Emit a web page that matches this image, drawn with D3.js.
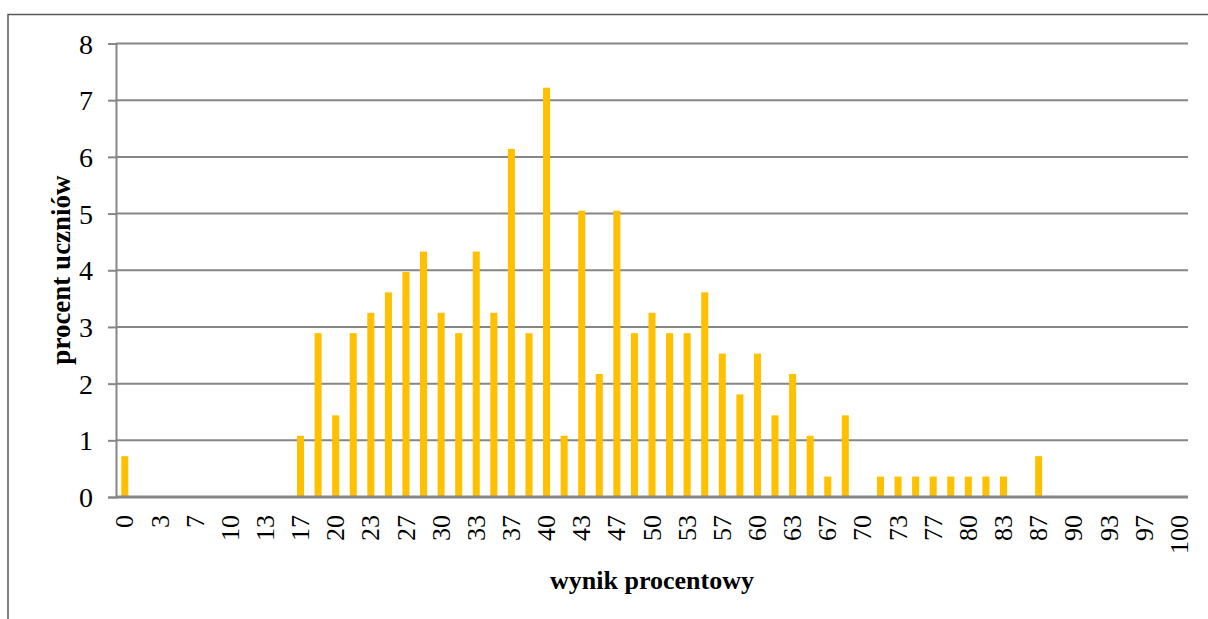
<!DOCTYPE html>
<html>
<head>
<meta charset="utf-8">
<script src="https://cdn.jsdelivr.net/npm/d3@7"></script>
<style>
  html, body { margin: 0; background: #fff; overflow: hidden; }
  svg { display: block; }
  svg text { font-family: "Liberation Serif", "Times New Roman", serif; }
</style>
</head>
<body>
<svg class="chart" width="1208" height="619"></svg>
<script>
// wynik procentowy (k/60 punktów), etykiety kategorii
const categories = ["0","2","3","5","7","8","10","12","13","15","17","18","20","22","23","25",
  "27","28","30","32","33","35","37","38","40","42","43","45","47","48","50","52","53","55",
  "57","58","60","62","63","65","67","68","70","72","73","75","77","78","80","82","83","85",
  "87","88","90","92","93","95","97","98","100"];

// procent uczniów
const values = [0.72, 0, 0, 0, 0, 0, 0, 0, 0, 0,
  1.08, 2.89, 1.44, 2.89, 3.25, 3.61, 3.97, 4.33, 3.25, 2.89,
  4.33, 3.25, 6.14, 2.89, 7.22, 1.08, 5.05, 2.17, 5.05, 2.89,
  3.25, 2.89, 2.89, 3.61, 2.53, 1.81, 2.53, 1.44, 2.17, 1.08,
  0.36, 1.44, 0, 0.36, 0.36, 0.36, 0.36, 0.36, 0.36, 0.36,
  0.36, 0, 0.72, 0, 0, 0, 0, 0, 0, 0, 0];

const yTicks = [0, 1, 2, 3, 4, 5, 6, 7, 8];
const xTitle = "wynik procentowy";
const yTitle = "procent uczniów";

const serif = '"Liberation Serif", "Times New Roman", serif';
const data = categories.map((c, i) => ({ cat: c, value: values[i] }));

const svg = d3.select(".chart");
const width = +svg.attr("width");
const height = +svg.attr("height");
const margin = { top: 43.5, left: 116 };
const innerWidth = 1188 - margin.left;
const innerHeight = 497 - margin.top;

// ramka wykresu (widoczna tylko góra i lewa strona)
svg.append("path")
  .attr("d", `M8,${height} V14.5 H${width}`)
  .attr("fill", "none")
  .attr("stroke", "#595959")
  .attr("stroke-width", 1.5);

const xScale = d3.scaleBand().domain(categories).range([0, innerWidth]).paddingInner(0.6).paddingOuter(0.3);
const yScale = d3.scaleLinear().domain([0, 8]).range([innerHeight, 0]);

const g = svg.append("g")
  .attr("transform", `translate(${margin.left},${margin.top})`);

// oś Y
const yAxis = g.append("g")
  .attr("class", "y-axis")
  .call(d3.axisLeft(yScale).tickValues(yTicks).tickSize(8).tickPadding(15));

yAxis.attr("font-family", null).attr("font-size", null);
yAxis.select(".domain").attr("stroke", "#868686").attr("stroke-width", 2);
yAxis.selectAll(".tick line").attr("stroke", "#868686").attr("stroke-width", 2);
yAxis.selectAll(".tick text")
  .style("font-family", serif)
  .style("font-size", "28px")
  .attr("fill", "#000")
  .attr("dy", "0.34em");

// linie siatki
g.append("g")
  .attr("class", "grid")
  .selectAll("line")
  .data(yTicks.filter((d) => d > 0))
  .join("line")
  .attr("x1", 0)
  .attr("x2", innerWidth)
  .attr("y1", (d) => yScale(d))
  .attr("y2", (d) => yScale(d))
  .attr("stroke", "#868686")
  .attr("stroke-width", 2);

g.selectAll(".bar")
  .data(data)
  .join("rect")
  .attr("class", "bar")
  .attr("x", (d) => xScale(d.cat))
  .attr("y", (d) => yScale(d.value))
  .attr("width", xScale.bandwidth())
  .attr("height", (d) => innerHeight - yScale(d.value))
  .attr("fill", "#FFC000");

// oś X - co druga etykieta
const xAxis = g.append("g")
  .attr("class", "x-axis")
  .attr("transform", `translate(0,${innerHeight})`)
  .call(d3.axisBottom(xScale)
    .tickValues(categories.filter((c, i) => i % 2 === 0))
    .tickSize(0)
    .tickPadding(0)
    .tickSizeOuter(0));

xAxis.attr("font-family", null).attr("font-size", null);
xAxis.select(".domain").remove();
xAxis.selectAll(".tick text")
  .style("font-family", serif)
  .style("font-size", "26px")
  .attr("fill", "#000")
  .attr("text-anchor", "end")
  .attr("transform", "rotate(-90)")
  .attr("x", -18)
  .attr("y", 0)
  .attr("dy", "0.33em");

// linia bazowa
g.append("line")
  .attr("x1", 0)
  .attr("x2", innerWidth)
  .attr("y1", innerHeight)
  .attr("y2", innerHeight)
  .attr("stroke", "#868686")
  .attr("stroke-width", 3);

svg.append("text")
  .attr("x", 652)
  .attr("y", 589)
  .attr("text-anchor", "middle")
  .style("font-size", "26px")
  .attr("font-weight", "bold")
  .text(xTitle);

svg.append("text")
  .attr("transform", "translate(70,270) rotate(-90)")
  .attr("text-anchor", "middle")
  .style("font-size", "27px")
  .attr("font-weight", "bold")
  .text(yTitle);
</script>
</body>
</html>
